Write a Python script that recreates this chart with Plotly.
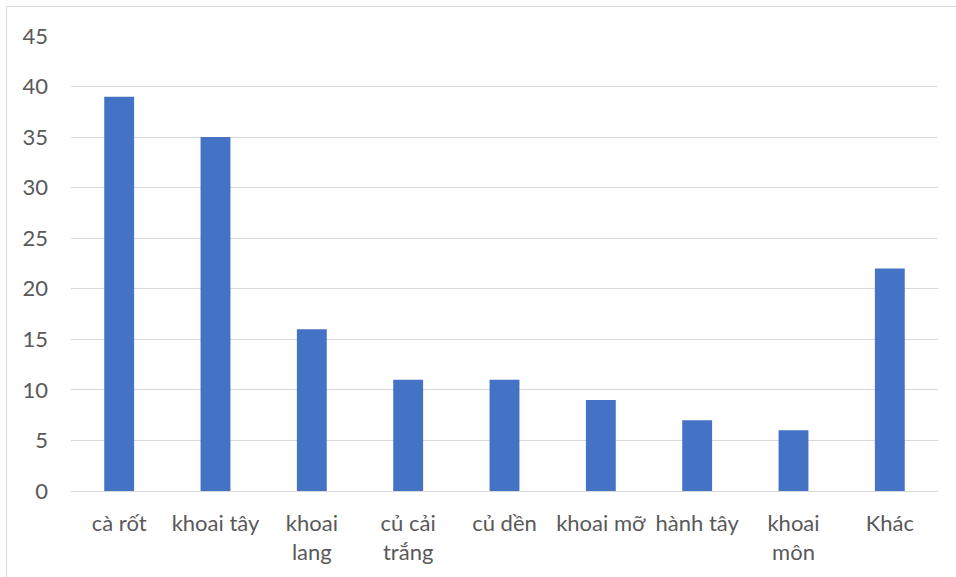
import plotly.graph_objects as go

# Categories and counts
categories = ["cà rốt", "khoai tây", "khoai<br>lang", "củ cải<br>trắng", "củ dền",
              "khoai mỡ", "hành tây", "khoai<br>môn", "Khác"]
values = [39, 35, 16, 11, 11, 9, 7, 6, 22]
y_ticks = [0, 5, 10, 15, 20, 25, 30, 35, 40, 45]

W, H = 956, 577
ML, MR, MT, MB = 71, 18, 36, 86
PW, PH = W - ML - MR, H - MT - MB

TEXT = "#595959"
GRID = "#d9d9d9"
FONT = "Lato, 'Open Sans', sans-serif"

fig = go.Figure(
    go.Bar(x=categories, y=values, marker=dict(color="#4472C4", line=dict(width=0)))
)

# Outer chart frame (left and top edges visible within the canvas)
def px_to_paper_x(px):
    return (px - ML) / PW

def px_to_paper_y(py):
    return 1 - (py - MT) / PH

fig.add_shape(
    type="rect", xref="paper", yref="paper",
    x0=px_to_paper_x(6.5), x1=px_to_paper_x(W + 20),
    y0=px_to_paper_y(H + 20), y1=px_to_paper_y(6.5),
    line=dict(color=GRID, width=1), fillcolor="rgba(0,0,0,0)", layer="below",
)

fig.update_layout(
    width=W, height=H,
    margin=dict(l=ML, r=MR, t=MT, b=MB),
    paper_bgcolor="white", plot_bgcolor="white",
    bargap=0.69,
    showlegend=False,
    font=dict(family=FONT, size=22, color=TEXT),
    xaxis=dict(
        showgrid=False, showline=True, linecolor=GRID, linewidth=1,
        ticks="", ticklabelstandoff=13, tickfont=dict(size=22, color=TEXT),
        fixedrange=True,
    ),
    yaxis=dict(
        range=[0, 45], tickvals=y_ticks, showgrid=True, gridcolor=GRID, gridwidth=1,
        zeroline=False, showline=False, ticks="", ticklabelstandoff=22,
        tickfont=dict(size=22, color=TEXT), fixedrange=True,
    ),
)

fig.write_html("out.html")
